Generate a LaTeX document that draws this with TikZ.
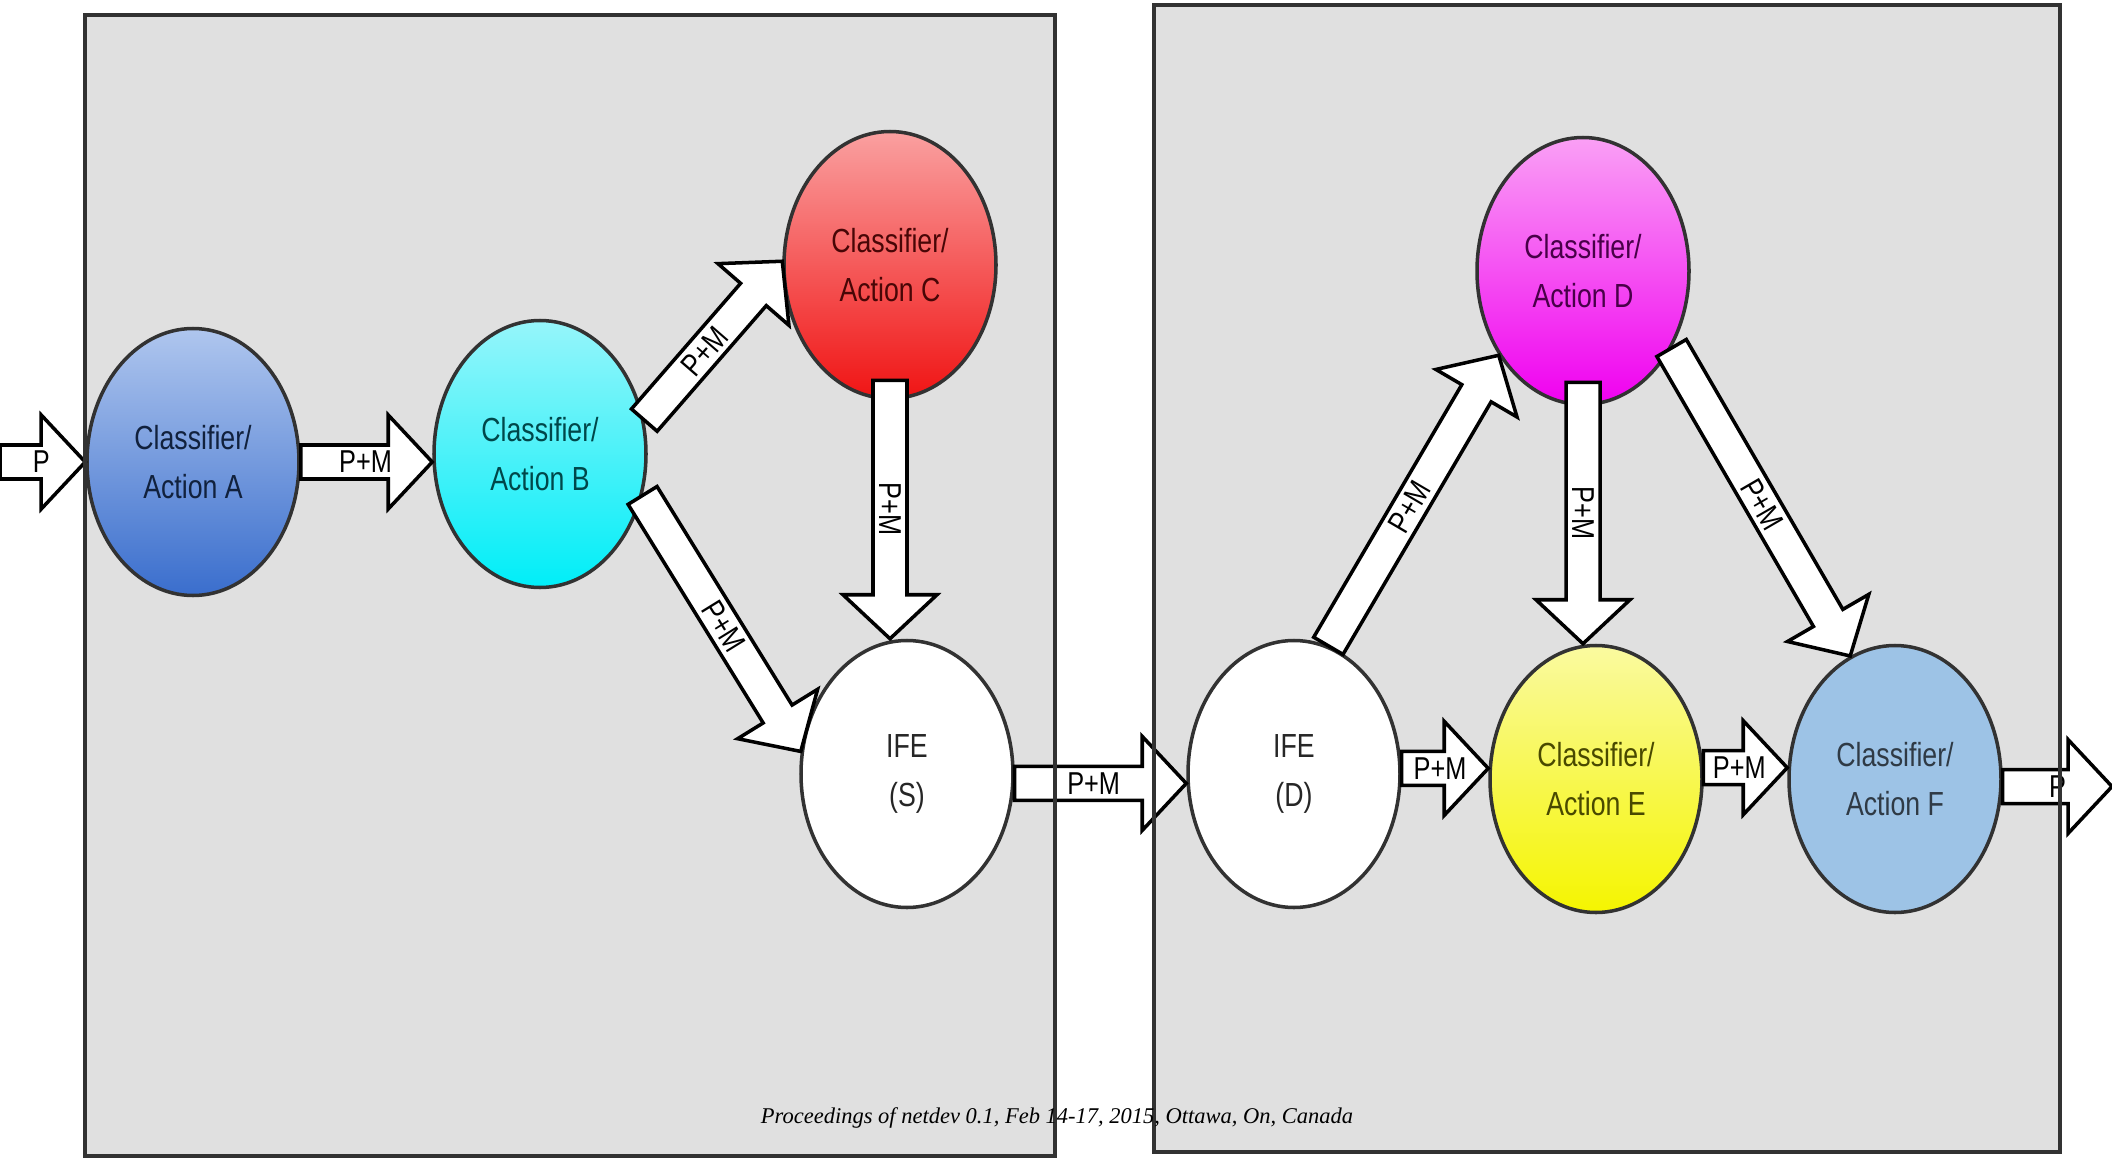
\documentclass[tikz,border=0pt]{standalone}
\usepackage{fontspec}
\usetikzlibrary{shapes.geometric,calc}
\newfontfamily\nodefont[FakeStretch=0.8]{Liberation Sans}
\newfontfamily\footfont{Liberation Serif}

\definecolor{panelgray}{RGB}{224,224,224}
\definecolor{frame}{RGB}{50,50,50}
\definecolor{aTop}{RGB}{175,198,238}\definecolor{aBot}{RGB}{58,110,205}
\definecolor{bTop}{RGB}{150,245,250}\definecolor{bBot}{RGB}{0,238,248}
\definecolor{cTop}{RGB}{250,160,160}\definecolor{cBot}{RGB}{240,20,20}
\definecolor{dTop}{RGB}{250,160,245}\definecolor{dBot}{RGB}{240,0,240}
\definecolor{eTop}{RGB}{250,250,160}\definecolor{eBot}{RGB}{245,245,0}
\definecolor{fFill}{RGB}{157,195,230}

\tikzset{
  proc/.style 2 args={ellipse, draw=frame, line width=1pt, top color=#1, bottom color=#2,
    text=#2!30!black, minimum width=2.12cm, minimum height=2.67cm, inner sep=0pt,
    align=center, font=\nodefont\fontsize{9.5}{13.7}\selectfont},
  ife/.style={proc={white}{white}, text=black!85},
  flow/.style={draw=black, line width=1pt, fill=white, line join=miter},
  flowlabel/.style={inner sep=0pt, font=\nodefont\fontsize{9}{9}\selectfont},
  panel/.style={fill=panelgray},
  panelframe/.style={draw=frame, line width=1.1pt},
  footer/.style={font=\footfont\itshape\fontsize{6.4}{7.5}\selectfont}
}

\def\flowshaft{0.17cm}
\def\flowheadlen{0.44cm}
\def\flowheadw{0.47cm}

\newcommand{\flowarrow}[4]{%
  \path (#1) coordinate (fs);
  \path (#2) coordinate (ft);
  \path ($(ft)!\flowheadlen!(fs)$) coordinate (fh);
  \draw[flow] ($(fs)!\flowshaft!90:(ft)$) -- ($(fh)!\flowshaft!-90:(fs)$)
    -- ($(fh)!\flowheadw!-90:(fs)$) -- (ft) -- ($(fh)!\flowheadw!90:(fs)$)
    -- ($(fh)!\flowshaft!90:(fs)$) -- ($(fs)!\flowshaft!-90:(ft)$) -- cycle;
  \path (fs) -- (fh) node[flowlabel, pos=#3, sloped] {#4};
}

\begin{document}
\begin{tikzpicture}
  \useasboundingbox (0,0) rectangle (21.12,11.59);
  \fill[panel] (0.85,0.03) rectangle (10.55,11.44);
  \fill[panel] (11.54,0.07) rectangle (20.60,11.54);

  \node[proc={aTop}{aBot}] (A) at (1.93,6.97) {Classifier/\\Action A};
  \node[proc={bTop}{bBot}] (B) at (5.40,7.05) {Classifier/\\Action B};
  \node[proc={cTop}{cBot}] (C) at (8.90,8.94) {Classifier/\\Action C};
  \node[ife] (S) at (9.07,3.85) {IFE\\(S)};
  \node[ife] (ifeD) at (12.94,3.85) {IFE\\(D)};
  \node[proc={dTop}{dBot}] (D) at (15.83,8.88) {Classifier/\\Action D};
  \node[proc={eTop}{eBot}] (E) at (15.96,3.80) {Classifier/\\Action E};
  \node[proc={fFill}{fFill}] (F) at (18.95,3.80) {Classifier/\\Action F};

  \coordinate (in) at (0,0 |- A.west);
  \coordinate (out) at (21.12,0 |- F.-4);

  \flowarrow{in}{A.west}{1.0}{P}
  \flowarrow{A.east}{B.west |- A.east}{0.74}{P+M}
  \flowarrow{B.18}{C.178}{0.55}{P+M}
  \flowarrow{B.-22}{S.168}{0.6}{P+M}
  \flowarrow{[yshift=0.2cm]C.south}{S.north -| C.south}{0.6}{P+M}
  \flowarrow{S.-5}{ifeD.west |- S.-5}{0.62}{P+M}
  \flowarrow{ifeD.75}{D.225}{0.55}{P+M}
  \flowarrow{[yshift=0.24cm]D.south}{E.north -| D.south}{0.6}{P+M}
  \flowarrow{D.-41}{F.110}{0.58}{P+M}
  \flowarrow{ifeD.3}{E.west |- ifeD.3}{0.9}{P+M}
  \flowarrow{E.6}{F.west |- E.6}{0.9}{P+M}
  \flowarrow{F.-4}{out}{0.84}{P}

  \draw[panelframe] (0.85,0.03) rectangle (10.55,11.44);
  \draw[panelframe] (11.54,0.07) rectangle (20.60,11.54);

  \node[footer] (foot) at (10.57,0.41) {Proceedings of netdev 0.1, Feb 14-17, 2015, Ottawa, On, Canada};
\end{tikzpicture}
\end{document}
